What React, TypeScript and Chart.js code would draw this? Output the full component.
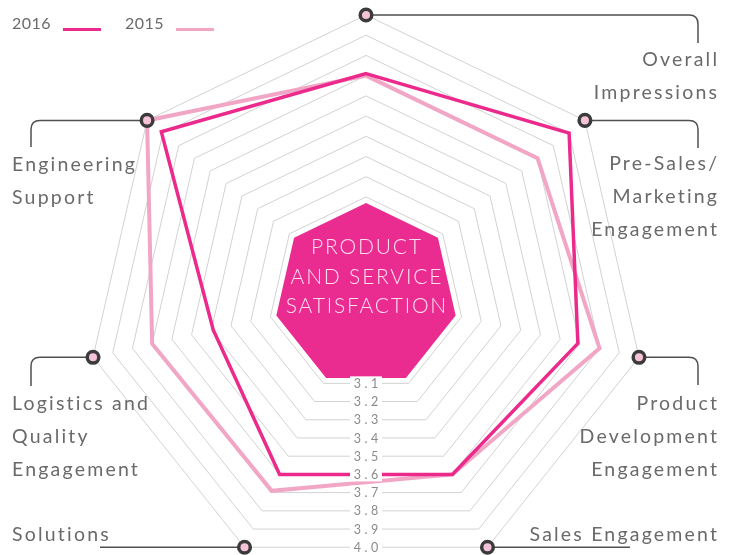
import React, { useEffect, useRef } from "react";
import { Chart, registerables } from "chart.js";

Chart.register(...registerables);

// ---------- data ----------
const categories = [
  "Overall Impressions",
  "Pre-Sales/Marketing Engagement",
  "Product Development Engagement",
  "Sales Engagement",
  "Solutions",
  "Logistics and Quality Engagement",
  "Engineering Support",
];
const categoryLines = [
  ["Overall", "Impressions"],
  ["Pre-Sales/", "Marketing", "Engagement"],
  ["Product", "Development", "Engagement"],
  ["Sales Engagement"],
  ["Solutions"],
  ["Logistics and", "Quality", "Engagement"],
  ["Engineering", "Support"],
];
const seriesNames = ["2016", "2015"];
const values2016 = [3.71, 3.9, 3.69, 3.6, 3.6, 3.39, 3.91];
const values2015 = [3.7, 3.7, 3.8, 3.6, 3.69, 3.7, 4.0];
const centerBadgeValues = [3.07, 3.07, 3.07, 3.07, 3.07, 3.07, 3.07];
const tickValues = [3.0, 3.1, 3.2, 3.3, 3.4, 3.5, 3.6, 3.7, 3.8, 3.9, 4.0];
const tickLabels = ["3.0", "3.1", "3.2", "3.3", "3.4", "3.5", "3.6", "3.7", "3.8", "3.9", "4.0"];
const centerTitle = ["PRODUCT", "AND SERVICE", "SATISFACTION"];

// ---------- style / layout ----------
const W = 733;
const H = 555;
const C2016 = "#EC2A8C";
const C2015 = "#F2A6C6";
const CCENTER = "#EA2C91";
const GRID = "#d2d2d2";
const TEXT = "#6a6a6a";
const TICKTEXT = "#8a8a8a";
const FONT = "Lato, 'Open Sans', sans-serif";
const R_MIN = 2.615;
const R_MAX = 4.0;
const CX = 366;
const CY = 295;
const RADIUS = 280;

type LabelLayout = {
  side: "l" | "r";
  vx?: number;
  vEnd?: number;
  hEnd?: number;
  tx: number;
  ty: number;
};
const labelLayout: LabelLayout[] = [
  { side: "r", vx: 698, vEnd: 43, tx: 717, ty: 66 },
  { side: "r", vx: 698, vEnd: 148, tx: 717, ty: 170 },
  { side: "r", vx: 698, vEnd: 385, tx: 717, ty: 410 },
  { side: "r", hEnd: 630, tx: 717, ty: 541 },
  { side: "l", hEnd: 100, tx: 12, ty: 541 },
  { side: "l", vx: 31, vEnd: 386, tx: 12, ty: 410 },
  { side: "l", vx: 31, vEnd: 147, tx: 12, ty: 171 },
];
const LINE_GAP = 33;

function drawText(
  ctx: CanvasRenderingContext2D,
  s: string,
  x: number,
  y: number,
  align: CanvasTextAlign,
  spacing: number
) {
  (ctx as any).letterSpacing = spacing + "px";
  ctx.textAlign = align;
  let dx = 0;
  if (align === "right") dx = spacing;
  else if (align === "center") dx = spacing / 2;
  ctx.fillText(s, x + dx, y);
  (ctx as any).letterSpacing = "0px";
}

const decorPlugin = {
  id: "decor",
  afterDatasetsDraw(chart: any) {
    const ctx: CanvasRenderingContext2D = chart.ctx;
    const scale = chart.scales.r;
    const cx = scale.xCenter;
    const cy = scale.yCenter;
    ctx.save();

    // center title
    ctx.fillStyle = "rgba(255,232,243,0.95)";
    ctx.font = `300 21px ${FONT}`;
    ctx.textBaseline = "alphabetic";
    centerTitle.forEach((t, i) => {
      drawText(ctx, t, cx, cy - 41 + i * 29.5, "center", 1.8);
    });

    // tick labels along the downward direction
    const apo = Math.cos(Math.PI / 7);
    ctx.font = `12.5px ${FONT}`;
    ctx.textBaseline = "middle";
    tickValues.forEach((v, i) => {
      if (i === 0) return;
      const d = scale.getDistanceFromCenterForValue(v);
      const y = cy + d * apo;
      const label = tickLabels[i];
      (ctx as any).letterSpacing = "3.5px";
      const w = ctx.measureText(label).width;
      (ctx as any).letterSpacing = "0px";
      ctx.fillStyle = "#ffffff";
      ctx.fillRect(cx - w / 2 - 2, y - 7, w + 4, 14);
      ctx.fillStyle = TICKTEXT;
      drawText(ctx, label, cx, y + 0.5, "center", 3.5);
    });

    // connectors
    ctx.strokeStyle = "#505050";
    ctx.lineWidth = 1.5;
    const rc = 9;
    categories.forEach((_, i) => {
      const p = scale.getPointPositionForValue(i, scale.max);
      const L = labelLayout[i];
      ctx.beginPath();
      ctx.moveTo(p.x, p.y);
      if (L.vx !== undefined && L.vEnd !== undefined) {
        const dir = L.side === "r" ? 1 : -1;
        ctx.lineTo(L.vx - dir * rc, p.y);
        ctx.quadraticCurveTo(L.vx, p.y, L.vx, p.y + rc);
        ctx.lineTo(L.vx, L.vEnd);
      } else if (L.hEnd !== undefined) {
        ctx.lineTo(L.hEnd, p.y);
      }
      ctx.stroke();
    });

    // category labels
    ctx.fillStyle = TEXT;
    ctx.font = `400 19.5px ${FONT}`;
    ctx.textBaseline = "alphabetic";
    categories.forEach((_, i) => {
      const L = labelLayout[i];
      categoryLines[i].forEach((line, j) => {
        drawText(ctx, line, L.tx, L.ty + j * LINE_GAP, L.side === "r" ? "right" : "left", 2.2);
      });
    });

    // markers at outer vertices
    categories.forEach((_, i) => {
      const p = scale.getPointPositionForValue(i, scale.max);
      ctx.beginPath();
      ctx.arc(p.x, p.y, 5.8, 0, Math.PI * 2);
      ctx.fillStyle = "#F5C2D7";
      ctx.fill();
      ctx.lineWidth = 3.5;
      ctx.strokeStyle = "#3b3b3b";
      ctx.stroke();
    });

    // legend
    ctx.font = `400 16px ${FONT}`;
    ctx.fillStyle = TEXT;
    ctx.textBaseline = "alphabetic";
    const legendX = [12, 125];
    const legendColors = [C2016, C2015];
    seriesNames.forEach((name, i) => {
      drawText(ctx, name, legendX[i], 28.5, "left", 0.5);
      ctx.strokeStyle = legendColors[i];
      ctx.lineWidth = 3;
      ctx.beginPath();
      ctx.moveTo(legendX[i] + 51, 29.5);
      ctx.lineTo(legendX[i] + 89, 29.5);
      ctx.stroke();
    });

    ctx.restore();
  },
};

export default function App() {
  const ref = useRef<HTMLCanvasElement | null>(null);
  useEffect(() => {
    if (!ref.current) return;
    const chart = new Chart(ref.current, {
      type: "radar",
      data: {
        labels: categories,
        datasets: [
          {
            label: seriesNames[0],
            data: values2016,
            borderColor: C2016,
            borderWidth: 3.5,
            pointRadius: 0,
            fill: false,
            borderJoinStyle: "miter",
          },
          {
            label: seriesNames[1],
            data: values2015,
            borderColor: C2015,
            borderWidth: 4,
            pointRadius: 0,
            fill: false,
            borderJoinStyle: "miter",
          },
          {
            label: "center",
            data: centerBadgeValues,
            borderColor: CCENTER,
            backgroundColor: CCENTER,
            borderWidth: 0,
            pointRadius: 0,
            fill: "start",
          },
        ],
      },
      options: {
        responsive: false,
        animation: false,
        devicePixelRatio: 1,
        layout: { padding: 0 },
        elements: { line: { tension: 0 } },
        plugins: { legend: { display: false }, tooltip: { enabled: false } },
        scales: {
          r: {
            min: R_MIN,
            max: R_MAX,
            angleLines: { display: false },
            grid: { color: GRID, lineWidth: 1 },
            pointLabels: { display: false },
            ticks: { display: false },
            afterBuildTicks: (s: any) => {
              s.ticks = tickValues.map((v) => ({ value: v }));
            },
            afterUpdate: (s: any) => {
              s.xCenter = CX;
              s.yCenter = CY;
              s.drawingArea = RADIUS;
            },
          },
        },
      } as any,
      plugins: [decorPlugin],
    });
    return () => chart.destroy();
  }, []);
  return (
    <div style={{ position: "fixed", left: 0, top: 0, width: W, height: H, background: "#fff" }}>
      <canvas ref={ref} width={W} height={H} style={{ width: W, height: H, display: "block" }} />
    </div>
  );
}
